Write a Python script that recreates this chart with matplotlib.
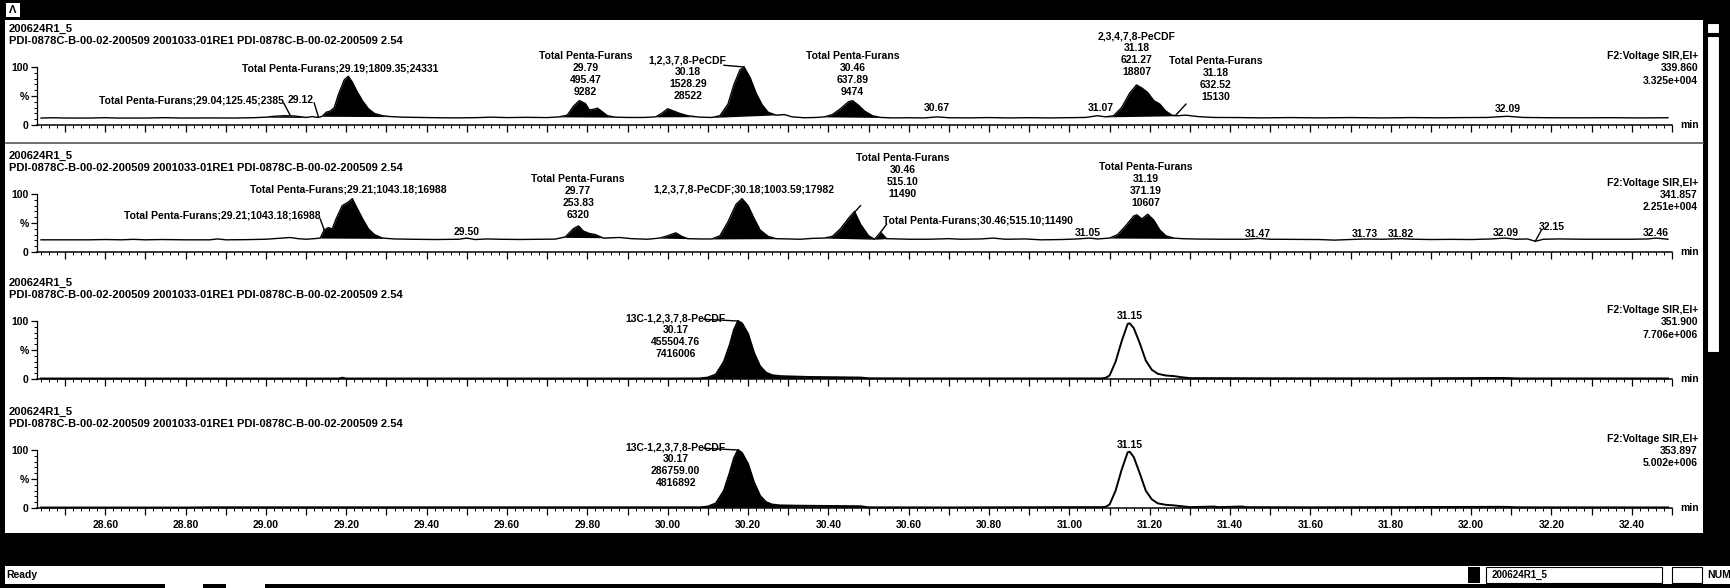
import numpy as np
import matplotlib.pyplot as plt
from matplotlib.ticker import MultipleLocator, FuncFormatter
from matplotlib.patches import Rectangle

W, H = 1731, 588
plt.rcParams['font.family'] = ['Liberation Sans', 'DejaVu Sans']
plt.rcParams['font.size'] = 7.5
plt.rcParams['font.weight'] = 'bold'

# header text of every trace
sample = "200624R1_5"
desc = "PDI-0878C-B-00-02-200509 2001033-01RE1 PDI-0878C-B-00-02-200509 2.54"
func = "F2:Voltage SIR,EI+"
masses = ["339.860", "341.857", "351.900", "353.897"]
intens = ["3.325e+004", "2.251e+004", "7.706e+006", "5.002e+006"]

# traces: (time min, % of full scale)
p1 = [(28.44, 12), (28.47, 12.5), (28.50, 12), (28.56, 12), (28.60, 12.6), (28.63, 12),
      (28.70, 12), (28.75, 12.6), (28.79, 12), (28.86, 12.2), (28.92, 12), (28.97, 12.6),
      (29.00, 13.5), (29.02, 15), (29.045, 16), (29.07, 15.5), (29.09, 14), (29.10, 13),
      (29.115, 14.5), (29.13, 13), (29.14, 15), (29.15, 22), (29.16, 24), (29.17, 30),
      (29.18, 52), (29.195, 78), (29.205, 84), (29.215, 74), (29.225, 60), (29.24, 42),
      (29.255, 28), (29.27, 20), (29.29, 16), (29.31, 14.5), (29.34, 13.5), (29.38, 13),
      (29.43, 12.5), (29.48, 12.3), (29.53, 12.8), (29.56, 13.5), (29.60, 12.8), (29.65, 13.2),
      (29.70, 12.8), (29.73, 14), (29.75, 17), (29.765, 32), (29.78, 42), (29.795, 37),
      (29.805, 26), (29.815, 27), (29.825, 29), (29.835, 24), (29.85, 16), (29.87, 13.5),
      (29.90, 13), (29.94, 13), (29.97, 14), (29.985, 20), (30.00, 28), (30.015, 24),
      (30.03, 20), (30.05, 16), (30.08, 13.5), (30.11, 13), (30.13, 16), (30.15, 36),
      (30.165, 70), (30.18, 95), (30.19, 100), (30.205, 82), (30.22, 55), (30.235, 35),
      (30.25, 22), (30.27, 17), (30.29, 18), (30.31, 14), (30.34, 12.5), (30.37, 13),
      (30.39, 14), (30.41, 18), (30.43, 28), (30.45, 40), (30.46, 42), (30.475, 34),
      (30.49, 24), (30.51, 16), (30.53, 13), (30.56, 12.3), (30.60, 12.5), (30.64, 12.2),
      (30.67, 14), (30.70, 12.5), (30.75, 12.3), (30.80, 12.8), (30.85, 12.2), (30.90, 12.6),
      (30.95, 12.2), (31.00, 12.6), (31.04, 13), (31.07, 16), (31.09, 14), (31.11, 16),
      (31.13, 30), (31.15, 55), (31.167, 69), (31.18, 64), (31.195, 56), (31.21, 42),
      (31.225, 36), (31.24, 24), (31.255, 17), (31.27, 16), (31.29, 17), (31.32, 14.5),
      (31.36, 13), (31.42, 12.8), (31.48, 12.3), (31.55, 12.8), (31.62, 12.3), (31.70, 12.8),
      (31.78, 12.2), (31.85, 12.8), (31.92, 12.4), (31.98, 12.8), (32.04, 13), (32.09, 15),
      (32.13, 13), (32.20, 12.5), (32.28, 12.4), (32.35, 12.6), (32.42, 12.2), (32.49, 12.5)]

p2 = [(28.44, 21), (28.50, 21), (28.56, 21), (28.60, 21.5), (28.64, 21), (28.67, 21.8),
      (28.70, 21), (28.74, 21.5), (28.80, 21), (28.86, 21), (28.88, 22.5), (28.90, 21),
      (28.95, 21.3), (29.00, 22), (29.03, 23.5), (29.06, 25), (29.08, 23), (29.10, 22),
      (29.12, 23), (29.135, 24), (29.145, 38), (29.155, 42), (29.165, 40), (29.175, 58),
      (29.19, 80), (29.205, 86), (29.215, 92), (29.225, 78), (29.24, 58), (29.255, 40),
      (29.27, 30), (29.29, 24), (29.32, 22.5), (29.36, 22), (29.42, 21.5), (29.48, 22),
      (29.50, 24), (29.52, 21.5), (29.55, 22.5), (29.58, 22), (29.63, 21.6), (29.68, 22),
      (29.72, 22.2), (29.745, 26), (29.765, 40), (29.778, 45), (29.79, 36), (29.805, 32),
      (29.82, 30), (29.84, 24), (29.86, 24.5), (29.88, 25), (29.91, 23), (29.95, 22),
      (29.98, 24), (30.00, 28), (30.02, 33), (30.035, 27), (30.05, 23), (30.08, 22.5),
      (30.11, 22.5), (30.13, 28), (30.15, 52), (30.17, 82), (30.185, 92), (30.20, 80),
      (30.215, 58), (30.23, 38), (30.25, 27), (30.27, 23), (30.30, 22.5), (30.33, 22),
      (30.36, 23.5), (30.39, 24), (30.41, 27), (30.43, 40), (30.45, 58), (30.465, 70),
      (30.48, 48), (30.50, 28), (30.515, 22), (30.53, 34), (30.545, 23), (30.57, 22.5),
      (30.60, 22), (30.65, 22), (30.70, 23), (30.73, 22), (30.78, 22.5), (30.81, 24),
      (30.84, 22), (30.89, 22.5), (30.93, 21), (30.98, 21.5), (31.02, 22.5), (31.05, 24),
      (31.07, 22.5), (31.10, 24), (31.12, 30), (31.14, 45), (31.16, 62), (31.168, 64),
      (31.18, 57), (31.195, 65), (31.21, 55), (31.225, 38), (31.24, 28), (31.26, 24),
      (31.28, 23), (31.32, 22.3), (31.38, 22), (31.44, 22), (31.47, 23.5), (31.50, 22),
      (31.56, 21.8), (31.62, 21.5), (31.66, 20.5), (31.70, 21.5), (31.735, 22.5), (31.78, 22),
      (31.825, 23), (31.86, 22), (31.90, 21.5), (31.95, 21.8), (32.00, 21.5), (32.05, 22.5),
      (32.085, 24), (32.11, 22), (32.14, 22.5), (32.16, 18.5), (32.18, 22), (32.22, 22.5),
      (32.28, 22), (32.34, 22), (32.40, 22), (32.44, 22.5), (32.46, 24), (32.49, 22)]

p3 = [(28.44, 0.8), (28.80, 0.8), (29.18, 0.8), (29.19, 2.2), (29.20, 0.8), (29.60, 0.8),
      (30.00, 0.8), (30.08, 1), (30.10, 2.5), (30.12, 8), (30.14, 30), (30.155, 60),
      (30.165, 85), (30.175, 100), (30.185, 96), (30.20, 78), (30.215, 45), (30.23, 22),
      (30.245, 11), (30.26, 6.5), (30.28, 5), (30.30, 4.5), (30.35, 3.5), (30.42, 3),
      (30.48, 2.5), (30.50, 1.2), (30.60, 1), (31.00, 1), (31.08, 1), (31.09, 2), (31.10, 6),
      (31.115, 30), (31.13, 65), (31.145, 95), (31.15, 96), (31.16, 88), (31.175, 62),
      (31.19, 32), (31.205, 16), (31.22, 9), (31.24, 6), (31.26, 5), (31.28, 3), (31.30, 1.5),
      (31.50, 1.2), (31.80, 1), (32.08, 1.8), (32.12, 1), (32.49, 1)]

p4 = [(28.44, 0.8), (28.80, 0.8), (28.85, 1.2), (29.60, 1.2), (30.00, 1.2), (30.08, 1.2),
      (30.10, 2.5), (30.12, 8), (30.14, 30), (30.155, 62), (30.165, 86), (30.175, 100),
      (30.185, 95), (30.20, 76), (30.215, 44), (30.23, 21), (30.245, 10), (30.26, 6),
      (30.28, 4.5), (30.32, 4), (30.40, 3.5), (30.48, 3), (30.50, 1.2), (30.70, 1), (31.00, 1.5),
      (31.08, 1.5), (31.09, 2), (31.10, 6), (31.115, 30), (31.13, 66), (31.145, 96),
      (31.15, 97), (31.16, 88), (31.175, 60), (31.19, 30), (31.205, 15), (31.22, 8),
      (31.24, 5.5), (31.26, 4.5), (31.28, 3), (31.30, 1.5), (31.36, 2.5), (31.37, 1.5),
      (31.43, 2.5), (31.44, 1.5), (31.60, 1.2), (32.08, 2), (32.12, 1.2), (32.49, 1)]

# integrated (black filled) peaks: start and end time
p1_fill = [(29.00, 29.10), (29.14, 29.31), (29.73, 29.87), (29.97, 30.07),
           (30.11, 30.29), (30.39, 30.53), (31.09, 31.27)]
p2_fill = [(29.135, 29.30), (29.74, 29.86), (29.98, 30.05), (30.11, 30.27),
           (30.39, 30.515), (30.515, 30.545), (31.10, 31.27)]
p3_fill = [(30.08, 30.50)]
p4_fill = [(30.08, 30.50)]

# peak annotations: text, time, % height, alignment
p1_labels = [("Total Penta-Furans;29.19;1809.35;24331", 29.185, 98, 'center'),
             ("Total Penta-Furans;29.04;125.45;2385", 29.044, 43, 'right'),
             ("29.12", 29.055, 43, 'left'),
             ("Total Penta-Furans\n29.79\n495.47\n9282", 29.795, 88, 'center'),
             ("1,2,3,7,8-PeCDF\n30.18\n1528.29\n28522", 30.05, 81, 'center'),
             ("Total Penta-Furans\n30.46\n637.89\n9474", 30.46, 88, 'center'),
             ("30.67", 30.67, 29, 'center'),
             ("31.07", 31.078, 30, 'center'),
             ("2,3,4,7,8-PeCDF\n31.18\n621.27\n18807", 31.167, 122, 'center'),
             ("Total Penta-Furans\n31.18\n632.52\n15130", 31.364, 80, 'center'),
             ("32.09", 32.09, 28, 'center')]
p2_labels = [("Total Penta-Furans;29.21;1043.18;16988", 29.205, 108, 'center'),
             ("Total Penta-Furans;29.21;1043.18;16988", 29.135, 63, 'right'),
             ("29.50", 29.50, 35, 'center'),
             ("Total Penta-Furans\n29.77\n253.83\n6320", 29.777, 94, 'center'),
             ("1,2,3,7,8-PeCDF;30.18;1003.59;17982", 30.19, 108, 'center'),
             ("Total Penta-Furans\n30.46\n515.10\n11490", 30.585, 131, 'center'),
             ("Total Penta-Furans;30.46;515.10;11490", 30.535, 55, 'left'),
             ("31.05", 31.045, 33, 'center'),
             ("Total Penta-Furans\n31.19\n371.19\n10607", 31.19, 116, 'center'),
             ("31.47", 31.47, 31, 'center'),
             ("31.73", 31.735, 31, 'center'),
             ("31.82", 31.825, 31, 'center'),
             ("32.09", 32.085, 33, 'center'),
             ("32.15", 32.20, 43, 'center'),
             ("32.46", 32.46, 32, 'center')]
p3_labels = [("13C-1,2,3,7,8-PeCDF\n30.17\n455504.76\n7416006", 30.02, 74, 'center'),
             ("31.15", 31.15, 109, 'center')]
p4_labels = [("13C-1,2,3,7,8-PeCDF\n30.17\n286759.00\n4816892", 30.02, 74, 'center'),
             ("31.15", 31.15, 109, 'center')]

# leader lines from label to peak
p1_leaders = [((29.044, 38), (29.06, 17)), ((29.12, 38), (29.13, 15)),
              ((30.14, 103), (30.19, 100)), ((31.29, 36), (31.265, 17))]
p2_leaders = [((29.135, 57), (29.145, 38)), ((30.48, 80), (30.467, 70)),
              ((30.545, 48), (30.53, 34)), ((32.175, 38), (32.16, 19))]
p3_leaders = [((30.09, 103), (30.175, 100))]
p4_leaders = [((30.09, 103), (30.175, 100))]

traces = [p1, p2, p3, p4]
fills = [p1_fill, p2_fill, p3_fill, p4_fill]
labels = [p1_labels, p2_labels, p3_labels, p4_labels]
leaders = [p1_leaders, p2_leaders, p3_leaders, p4_leaders]

fig = plt.figure(figsize=(W / 100, H / 100), dpi=100)
fig.patch.set_facecolor('white')


def fx(x):
    return x / W


def fy(y):
    return 1 - y / H


def box(x0, y0, x1, y1, fc='black', ec='none', lw=0):
    fig.patches.append(Rectangle((fx(x0), fy(y1)), (x1 - x0) / W, (y1 - y0) / H,
                                 transform=fig.transFigure, fc=fc, ec=ec, lw=lw))


def fill_peak(ax, t, y, t0, t1):
    m = (t >= t0) & (t <= t1)
    tt = np.concatenate([[t0], t[m], [t1]])
    yy = np.concatenate([[np.interp(t0, t, y)], y[m], [np.interp(t1, t, y)]])
    base = np.interp(tt, [t0, t1], [yy[0], yy[-1]])
    ax.fill_between(tt, base, yy, color='black', lw=0, clip_on=False)


ax_left, ax_right = 37, 1672
tops = [67, 194, 321, 450]
ph = 58

for i in range(4):
    top = tops[i]
    ax = fig.add_axes([fx(ax_left), fy(top + ph), (ax_right - ax_left) / W, ph / H])
    t, y = np.array(traces[i]).T
    lw = 1.0 if i < 2 else 1.4
    ax.plot(t, y, color='black', lw=lw, clip_on=False)
    for t0, t1 in fills[i]:
        fill_peak(ax, t, y, t0, t1)
    for txt, lt, ly, ha in labels[i]:
        ax.text(lt, ly, txt, ha=ha, va='center', multialignment='center',
                fontsize=7.5, fontweight='bold', clip_on=False, linespacing=1.25)
    for (a, b), (c, d) in leaders[i]:
        ax.plot([a, c], [b, d], color='black', lw=1.0, clip_on=False)

    ax.set_xlim(28.43, 32.50)
    ax.set_ylim(0, 100)
    for s in ['top', 'right']:
        ax.spines[s].set_visible(False)
    ax.spines['left'].set_linewidth(0.9)
    ax.spines['bottom'].set_linewidth(1.1)
    ax.xaxis.set_major_locator(MultipleLocator(0.1))
    ax.xaxis.set_minor_locator(MultipleLocator(0.02))
    if i == 3:
        ax.xaxis.set_major_formatter(FuncFormatter(
            lambda v, p: f"{v:.2f}" if round(v * 10) % 2 == 0 else ""))
    else:
        ax.set_xticklabels([])
    ax.tick_params(axis='x', which='major', length=5, width=0.9, pad=3.5, labelsize=7.5)
    ax.tick_params(axis='x', which='minor', length=2.5, width=0.7)
    ax.set_yticks([0, 50, 100])
    ax.set_yticklabels(['0', '%', '100'])
    ax.yaxis.set_minor_locator(MultipleLocator(10))
    ax.tick_params(axis='y', which='major', length=4, width=0.9, pad=2, labelsize=7.5)
    ax.tick_params(axis='y', which='minor', length=2, width=0.7)
    ax.text(1.005, 0, 'min', transform=ax.transAxes, ha='left', va='center',
            fontsize=7.5, fontweight='bold')

    # header lines and channel description
    fig.text(fx(9), fy(top - 38), sample, ha='left', va='center', fontsize=8)
    fig.text(fx(9), fy(top - 26), desc, ha='left', va='center', fontsize=8)
    fig.text(fx(1698), fy(top - 11), func, ha='right', va='center', fontsize=7.5)
    fig.text(fx(1698), fy(top + 1), masses[i], ha='right', va='center', fontsize=7.5)
    fig.text(fx(1698), fy(top + 13.5), intens[i], ha='right', va='center', fontsize=7.5)

# separator under first trace
fig.lines.append(plt.Line2D([fx(6), fx(1703)], [fy(143), fy(143)], transform=fig.transFigure,
                            color='#555555', lw=1.2))

# window frame (title bar, scroll bar, bottom band, status bar)
box(0, 0, W, 20)
box(6, 3, 20, 17, fc='white')
fig.text(fx(13), fy(10), 'Λ', ha='center', va='center', fontsize=8, color='black')
box(0, 0, 5, H)
box(1703, 0, W, 566)
box(1707, 23, 1719, 33, fc='white', ec='black', lw=0.8)
box(1707, 36, 1719, 352, fc='white', ec='black', lw=0.8)
box(0, 533, W, 566)
box(0, 584, W, H)
box(165, 584, 203, 588, fc='white')
box(226, 584, 265, 588, fc='white')
fig.text(fx(6), fy(575), 'Ready', ha='left', va='center', fontsize=7.5)
box(1468, 567, 1480, 583)
box(1486, 567, 1662, 583, fc='white', ec='black', lw=0.8)
fig.text(fx(1492), fy(575), '200624R1_5', ha='left', va='center', fontsize=7)
box(1672, 567, 1702, 583, fc='white', ec='black', lw=0.8)
fig.text(fx(1707), fy(575), 'NUM', ha='left', va='center', fontsize=7.5)

fig.savefig('out.png', dpi=100)
